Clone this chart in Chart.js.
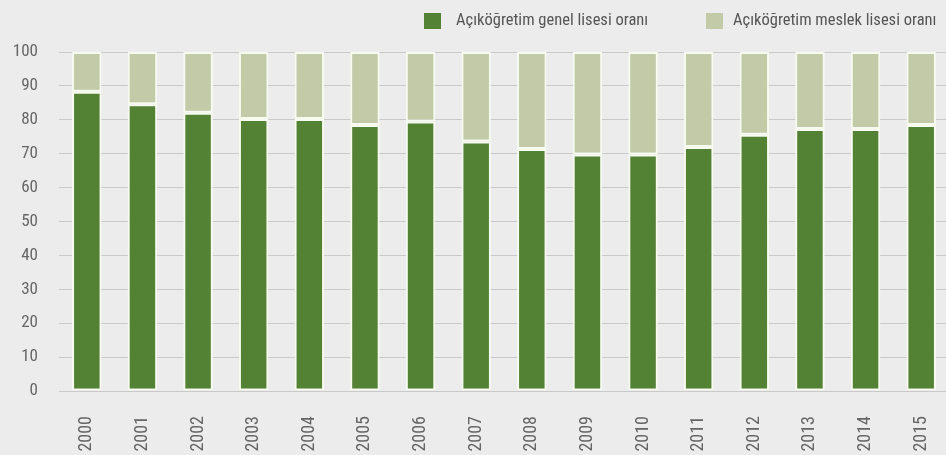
<!DOCTYPE html>
<html>
<head>
<meta charset="utf-8">
<script src="https://cdn.jsdelivr.net/npm/chart.js@4"></script>
<style>
  html, body { margin: 0; padding: 0; background: #ececec; overflow: hidden; }
  #wrap { width: 949px; height: 455px; position: relative; }
</style>
</head>
<body>
<div id="wrap"><canvas id="ctx"></canvas></div>
<script>
const years = ["2000", "2001", "2002", "2003", "2004", "2005", "2006", "2007",
    "2008", "2009", "2010", "2011", "2012", "2013", "2014", "2015"];
const genel = [88.3, 84.6, 82.1, 80.2, 80.2, 78.5, 79.5, 73.6,
    71.4, 69.8, 69.8, 72.0, 75.6, 77.3, 77.3, 78.5];
const meslek = genel.map(v => +(100 - v).toFixed(1));
const yTicks = [0, 10, 20, 30, 40, 50, 60, 70, 80, 90, 100];

const font = "'Roboto Condensed', 'Liberation Sans Narrow', 'Liberation Sans', sans-serif";

// legend drawn by hand so the item spacing matches the original
const legendSpots = [{ box: 424, text: 456 }, { box: 706, text: 733 }];
const topLegend = {
    id: "topLegend",
    afterDraw(chart) {
        const c = chart.ctx;
        c.save();
        c.font = "16.5px " + font;
        c.textBaseline = "middle";
        c.fillStyle = "#555555";
        chart.data.datasets.forEach((ds, i) => {
            const spot = legendSpots[i];
            c.fillStyle = ds.backgroundColor;
            c.fillRect(spot.box, 13, 17, 16);
            c.fillStyle = "#555555";
            c.fillText(ds.label, spot.text, 21);
        });
        c.restore();
    }
};

const ctx = document.getElementById("ctx");

const chart = new Chart(ctx, {
    type: "bar",
    data: {
        labels: years,
        datasets: [{
            label: "Açıköğretim genel lisesi oranı",
            data: genel,
            backgroundColor: "#548235",
            borderColor: "#f7fbef",
            borderWidth: 2,
            borderSkipped: false,
            barPercentage: 0.53,
            categoryPercentage: 1,
        }, {
            label: "Açıköğretim meslek lisesi oranı",
            data: meslek,
            backgroundColor: "#c2caa7",
            borderColor: "#f7fbef",
            borderWidth: 2,
            borderSkipped: false,
            barPercentage: 0.53,
            categoryPercentage: 1,
        }]
    },
    plugins: [topLegend],
    options: {
        responsive: true,
        maintainAspectRatio: false,
        animation: false,
        layout: {
            padding: { top: 52, bottom: 0, left: 0, right: 0 }
        },
        plugins: {
            legend: { display: false },
            tooltip: { enabled: false }
        },
        scales: {
            x: {
                stacked: true,
                grid: { display: false, drawTicks: false },
                border: { display: false },
                ticks: {
                    color: "#666666",
                    font: { family: font, size: 18 },
                    minRotation: 90,
                    maxRotation: 90,
                    padding: 25,
                    autoSkip: false
                },
                afterFit: axis => {
                    axis.height = 64;
                    axis.paddingLeft = 0;
                    axis.paddingRight = 0;
                }
            },
            y: {
                stacked: true,
                min: 0,
                max: 100,
                afterBuildTicks: axis => {
                    axis.ticks = yTicks.map(v => ({ value: v }));
                },
                grid: {
                    color: "#c9c9c9",
                    lineWidth: 1,
                    drawTicks: false
                },
                border: { display: false },
                ticks: {
                    color: "#666666",
                    font: { family: font, size: 17 },
                    padding: 21
                },
                afterFit: axis => {
                    axis.width = 59;
                }
            }
        }
    }
});
</script>
</body>
</html>
